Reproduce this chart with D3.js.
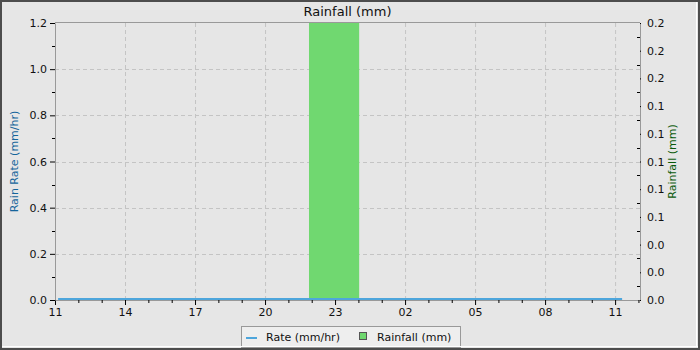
<!DOCTYPE html>
<html>
<head>
<meta charset="utf-8">
<script src="https://cdn.jsdelivr.net/npm/d3@7"></script>
<style>
	body { margin: 0; background: #fff; }
	svg { display: block; font-family: "DejaVu Sans", sans-serif; }
</style>
</head>
<body>
<svg id="chart" width="700" height="350"></svg>
<script>
// time window of the chart
var startTime = "2024-05-01 11:00";
var endTime = "2024-05-02 12:04";

// rain rate (mm/hr), all zero
var rateTimes = ["2024-05-01 11:08", "2024-05-01 14:00", "2024-05-01 17:00", "2024-05-01 20:00",
	"2024-05-01 23:00", "2024-05-02 02:00", "2024-05-02 05:00", "2024-05-02 08:00", "2024-05-02 11:18"];
var rateValues = [0, 0, 0, 0, 0, 0, 0, 0, 0];

// rainfall buckets (mm)
var rainStart = ["2024-05-01 21:53"];
var rainEnd = ["2024-05-02 00:02"];
var rainValues = [0.2];

var rateTicks = [0, 0.2, 0.4, 0.6, 0.8, 1.0, 1.2];
var rainTicks = [0, 0.02, 0.04, 0.06, 0.08, 0.10, 0.12, 0.14, 0.16, 0.18, 0.20];

var parse = d3.timeParse("%Y-%m-%d %H:%M");

var svg = d3.select('#chart');
var W = 700, H = 350;
var plotL = 55, plotR = 640, plotT = 23, plotB = 300;

var gridColor = '#c4c4c4';
var axisColor = '#999';

svg.append('rect').attr('width', W).attr('height', H).attr('fill', '#e6e6e6');

var x = d3.scaleTime().domain([parse(startTime), parse(endTime)]).range([plotL, plotR]);
var yRate = d3.scaleLinear().domain([0, 1.2]).range([plotB, plotT]);
var yRain = d3.scaleLinear().domain([0, 0.2]).range([plotB, plotT]);

var majorHours = d3.timeHour.range(x.domain()[0], x.domain()[1]).filter(function(d){ return d.getHours() % 3 === 2; });
var allHours = d3.timeHour.range(x.domain()[0], x.domain()[1]);

// grid
svg.append('g').selectAll('line').data(majorHours.slice(1)).join('line')
	.attr('x1', function(d){ return x(d) + .5; }).attr('x2', function(d){ return x(d) + .5; })
	.attr('y1', plotT).attr('y2', plotB)
	.attr('stroke', gridColor).attr('stroke-dasharray', '4,3');
svg.append('g').selectAll('line').data(rateTicks.slice(1, -1)).join('line')
	.attr('x1', plotL).attr('x2', plotR)
	.attr('y1', function(d){ return Math.round(yRate(d)) + .5; }).attr('y2', function(d){ return Math.round(yRate(d)) + .5; })
	.attr('stroke', gridColor).attr('stroke-dasharray', '4,3');

// top border
svg.append('line').attr('x1', plotL).attr('x2', plotR).attr('y1', plotT - .5).attr('y2', plotT - .5).attr('stroke', axisColor);

// rainfall bars
svg.append('g').selectAll('rect').data(rainValues).join('rect')
	.attr('x', function(d, i){ return x(parse(rainStart[i])); })
	.attr('width', function(d, i){ return x(parse(rainEnd[i])) - x(parse(rainStart[i])); })
	.attr('y', function(d){ return yRain(d); })
	.attr('height', function(d){ return plotB - yRain(d); })
	.attr('fill', '#70d870');

// rate line
var rateData = rateTimes.map(function(t, i){ return [parse(t), rateValues[i]]; });
svg.append('path').datum(rateData)
	.attr('d', d3.line().x(function(d){ return x(d[0]); }).y(function(d){ return yRate(d[1]) - 1; }))
	.attr('fill', 'none').attr('stroke', '#4ea6dc').attr('stroke-width', 2);

function styleAxis(g){
	g.select('.domain').attr('stroke', axisColor);
	g.selectAll('.tick line').attr('stroke', '#000');
	g.selectAll('.tick text').attr('fill', '#111').style('font-size', '11px').style('font-family', '"DejaVu Sans", sans-serif');
}

// x axis
var xAxis = svg.append('g').attr('transform', 'translate(0,' + plotB + ')')
	.call(d3.axisBottom(x).tickValues(majorHours).tickFormat(d3.timeFormat('%H')).tickSize(5).tickSizeOuter(0));
styleAxis(xAxis);
svg.append('g').attr('transform', 'translate(0,' + plotB + ')')
	.selectAll('line').data(allHours.filter(function(d){ return d.getHours() % 3 !== 2; })).join('line')
	.attr('x1', function(d){ return x(d) + .5; }).attr('x2', function(d){ return x(d) + .5; })
	.attr('y1', 0).attr('y2', 3).attr('stroke', '#000');

// left axis
var yAxisL = svg.append('g').attr('transform', 'translate(' + plotL + ',0)')
	.call(d3.axisLeft(yRate).tickValues(rateTicks).tickFormat(d3.format('.1f')).tickSize(5).tickSizeOuter(0));
styleAxis(yAxisL);
svg.append('g').attr('transform', 'translate(' + plotL + ',0)')
	.selectAll('line').data([0.1, 0.3, 0.5, 0.7, 0.9, 1.1]).join('line')
	.attr('x1', -3).attr('x2', 0)
	.attr('y1', function(d){ return Math.round(yRate(d)) + .5; }).attr('y2', function(d){ return Math.round(yRate(d)) + .5; })
	.attr('stroke', '#000');

// right axis
var yAxisR = svg.append('g').attr('transform', 'translate(' + plotR + ',0)')
	.call(d3.axisRight(yRain).tickValues(rainTicks).tickFormat(d3.format('.1f')).tickSize(1).tickPadding(6).tickSizeOuter(0));
styleAxis(yAxisR);
svg.append('g').attr('transform', 'translate(' + plotR + ',0)')
	.selectAll('line').data([0.01, 0.03, 0.05, 0.07, 0.09, 0.11, 0.13, 0.15, 0.17, 0.19]).join('line')
	.attr('x1', -3).attr('x2', 0)
	.attr('y1', function(d){ return Math.round(yRain(d)) + .5; }).attr('y2', function(d){ return Math.round(yRain(d)) + .5; })
	.attr('stroke', '#000');

// titles
svg.append('text').attr('x', (plotL + plotR) / 2).attr('y', 16).attr('text-anchor', 'middle')
	.style('font-size', '13px').attr('fill', '#111').text('Rainfall (mm)');
svg.append('text').attr('transform', 'translate(18,' + ((plotT + plotB) / 2) + ') rotate(-90)')
	.attr('text-anchor', 'middle').style('font-size', '11px').attr('fill', '#15659b').text('Rain Rate (mm/hr)');
svg.append('text').attr('transform', 'translate(676,' + ((plotT + plotB) / 2) + ') rotate(-90)')
	.attr('text-anchor', 'middle').style('font-size', '11px').attr('fill', '#0a5a0a').text('Rainfall (mm)');

// legend
var legend = svg.append('g');
legend.append('rect').attr('x', 241.5).attr('y', 326.5).attr('width', 219).attr('height', 21)
	.attr('fill', '#eeeeee').attr('stroke', '#999');
legend.append('line').attr('x1', 246).attr('x2', 257).attr('y1', 338).attr('y2', 338)
	.attr('stroke', '#4ea6dc').attr('stroke-width', 2);
legend.append('text').attr('x', 266).attr('y', 341).style('font-size', '11px').attr('fill', '#111').text('Rate (mm/hr)');
legend.append('rect').attr('x', 359.5).attr('y', 332.5).attr('width', 7).attr('height', 7)
	.attr('fill', '#70d870').attr('stroke', '#555');
legend.append('text').attr('x', 377).attr('y', 341).style('font-size', '11px').attr('fill', '#111').text('Rainfall (mm)');

// frame
svg.append('line').attr('x1', 2).attr('x2', W - 2).attr('y1', H - 3.5).attr('y2', H - 3.5).attr('stroke', '#fff');
svg.append('line').attr('x1', W - 3.5).attr('x2', W - 3.5).attr('y1', 2).attr('y2', H - 3).attr('stroke', '#fff');
svg.append('rect').attr('x', 1).attr('y', 1).attr('width', W - 2).attr('height', H - 2)
	.attr('fill', 'none').attr('stroke', '#4d4d4d').attr('stroke-width', 2);
</script>
</body>
</html>
